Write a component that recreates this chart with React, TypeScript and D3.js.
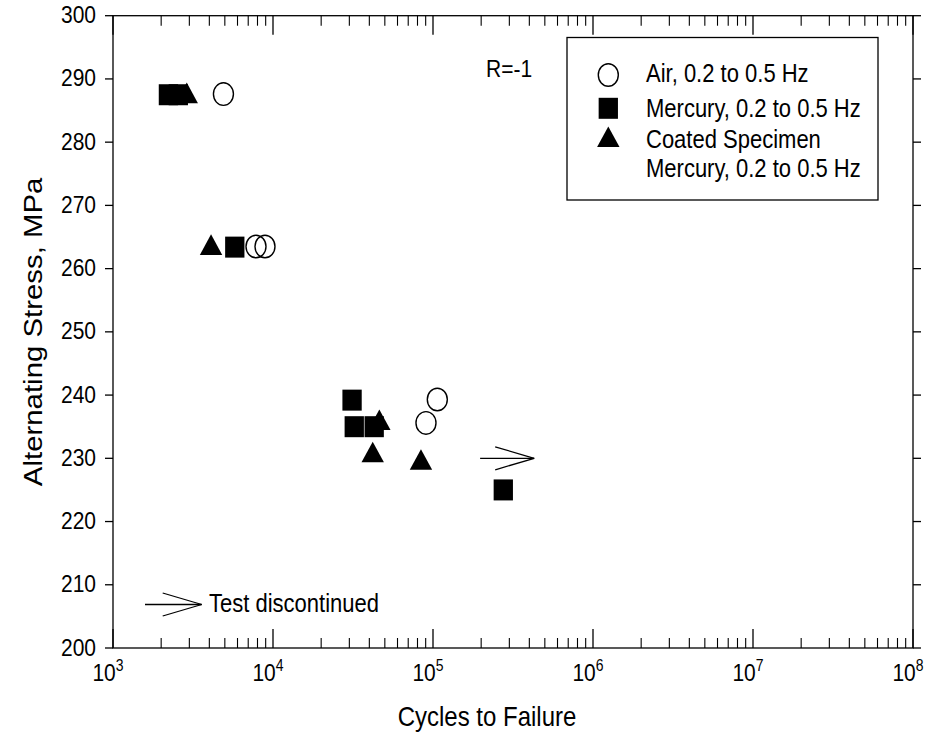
import React from "react";
import * as d3 from "d3";

// ---- data ----
const airCycles = [4900, 7830, 8910, 90400, 106400];
const airStress = [287.6, 263.5, 263.5, 235.6, 239.3];
const mercuryCycles = [2220, 2560, 5770, 31200, 32200, 42900, 275000];
const mercuryStress = [287.5, 287.5, 263.4, 239.2, 235.0, 235.0, 225.0];
const coatedCycles = [2890, 4100, 46200, 42000, 84100];
const coatedStress = [287.8, 263.8, 236.1, 231.0, 229.8];
const runoutStart = [197000];
const runoutEnd = [429000];
const runoutStress = [230];
const yTicks = [200, 210, 220, 230, 240, 250, 260, 270, 280, 290, 300];
const xDecades = [3, 4, 5, 6, 7, 8];
const legendLabels = ["Air, 0.2 to 0.5 Hz", "Mercury, 0.2 to 0.5 Hz", "Coated Specimen", "Mercury, 0.2 to 0.5 Hz"];

const W = 934, H = 744;
const left = 113, right = 913, top = 15.7, bottom = 648;
const FONT = "'Liberation Sans', Arial, Helvetica, sans-serif";
const STRETCH = 1.13;

const x = d3.scaleLog().domain([1e3, 1e8]).range([left, right]);
const y = d3.scaleLinear().domain([200, 300]).range([bottom, top]);

const SQ_W = 19.3, SQ_H = 21;
const TRI_HW = 11.2, TRI_HH = 10.3;
const C_RX = 10, C_RY = 11.3;

function Square({ cx, cy }: { cx: number; cy: number }) {
  return <rect x={cx - SQ_W / 2} y={cy - SQ_H / 2} width={SQ_W} height={SQ_H} fill="#000" />;
}
function Triangle({ cx, cy }: { cx: number; cy: number }) {
  const p = `${cx},${cy - TRI_HH} ${cx + TRI_HW},${cy + TRI_HH} ${cx - TRI_HW},${cy + TRI_HH}`;
  return <polygon points={p} fill="#000" />;
}
function Circle({ cx, cy }: { cx: number; cy: number }) {
  return <ellipse cx={cx} cy={cy} rx={C_RX} ry={C_RY} fill="none" stroke="#000" strokeWidth={1.4} />;
}
function Arrow({ x1, x2, yy }: { x1: number; x2: number; yy: number }) {
  const hl = 39, hw = 11.5;
  return (
    <g stroke="#000" strokeWidth={1.3} fill="none">
      <line x1={x1} y1={yy} x2={x2} y2={yy} />
      <line x1={x2} y1={yy} x2={x2 - hl} y2={yy - hw} />
      <line x1={x2} y1={yy} x2={x2 - hl} y2={yy + hw} />
    </g>
  );
}
function T({ x: tx, y: ty, size, anchor, dy, children }: any) {
  return (
    <text transform={`translate(${tx},${ty}) scale(1,${STRETCH})`} fontSize={size} textAnchor={anchor || "start"} dy={dy}>
      {children}
    </text>
  );
}

export default function App() {
  const minor: number[] = [];
  for (let d = 3; d < 8; d++) for (let m = 2; m <= 9; m++) minor.push(m * Math.pow(10, d));

  return (
    <svg width={W} height={H} style={{ position: "absolute", left: 0, top: 0, background: "#fff" }} fontFamily={FONT}>
      <rect width={W} height={H} fill="#fff" />
      {/* frame */}
      <rect x={left} y={top} width={right - left} height={bottom - top} fill="none" stroke="#000" strokeWidth={1.3} />
      {/* y ticks left & right (outward) */}
      {yTicks.map((t) => (
        <g key={t}>
          <line x1={left - 8} x2={left} y1={y(t)} y2={y(t)} stroke="#000" strokeWidth={1.3} />
          <line x1={right} x2={right + 8} y1={y(t)} y2={y(t)} stroke="#000" strokeWidth={1.3} />
          <T x={96} y={y(t) + 7.5} size={21} anchor="end">{t}</T>
        </g>
      ))}
      {/* x ticks bottom & top (inward) */}
      {xDecades.map((d) => (
        <g key={d}>
          <line x1={x(Math.pow(10, d))} x2={x(Math.pow(10, d))} y1={bottom} y2={bottom - 19} stroke="#000" strokeWidth={1.3} />
          <line x1={x(Math.pow(10, d))} x2={x(Math.pow(10, d))} y1={top} y2={top + 19} stroke="#000" strokeWidth={1.3} />
          <T x={x(Math.pow(10, d)) - 5} y={681} size={21} anchor="middle">
            10<tspan dy={-9} fontSize={14}>{d}</tspan>
          </T>
        </g>
      ))}
      {minor.map((m) => (
        <g key={m}>
          <line x1={x(m)} x2={x(m)} y1={bottom} y2={bottom - 10} stroke="#000" strokeWidth={1.1} />
          <line x1={x(m)} x2={x(m)} y1={top} y2={top + 10} stroke="#000" strokeWidth={1.1} />
        </g>
      ))}
      {/* axis titles */}
      <T x={487} y={726} size={24} anchor="middle">Cycles to Failure</T>
      <text transform={`translate(42,${(top + bottom) / 2}) rotate(-90) scale(${STRETCH},1)`} textAnchor="middle" fontSize={26}>
        Alternating Stress, MPa
      </text>
      {/* annotation */}
      <T x={486} y={77} size={21}>R=-1</T>

      {/* data */}
      {coatedCycles.map((n, i) => <Triangle key={"t" + i} cx={x(n)} cy={y(coatedStress[i])} />)}
      {mercuryCycles.map((n, i) => <Square key={"s" + i} cx={x(n)} cy={y(mercuryStress[i])} />)}
      {airCycles.map((n, i) => <Circle key={"c" + i} cx={x(n)} cy={y(airStress[i])} />)}
      {runoutStart.map((n, i) => <Arrow key={"a" + i} x1={x(n)} x2={x(runoutEnd[i])} yy={y(runoutStress[i])} />)}

      {/* legend */}
      <rect x={567} y={37.5} width={311} height={162.5} fill="#fff" stroke="#000" strokeWidth={1.3} />
      <Circle cx={608.3} cy={75} />
      <Square cx={608.3} cy={108.3} />
      <Triangle cx={608.3} cy={136.7} />
      <T x={646} y={82} size={22}>{legendLabels[0]}</T>
      <T x={646} y={117} size={22}>{legendLabels[1]}</T>
      <T x={646} y={148} size={22}>{legendLabels[2]}</T>
      <T x={646} y={177} size={22}>{legendLabels[3]}</T>

      {/* test discontinued key */}
      <Arrow x1={145} x2={201.7} yy={604.5} />
      <T x={209} y={612} size={22}>Test discontinued</T>
    </svg>
  );
}
